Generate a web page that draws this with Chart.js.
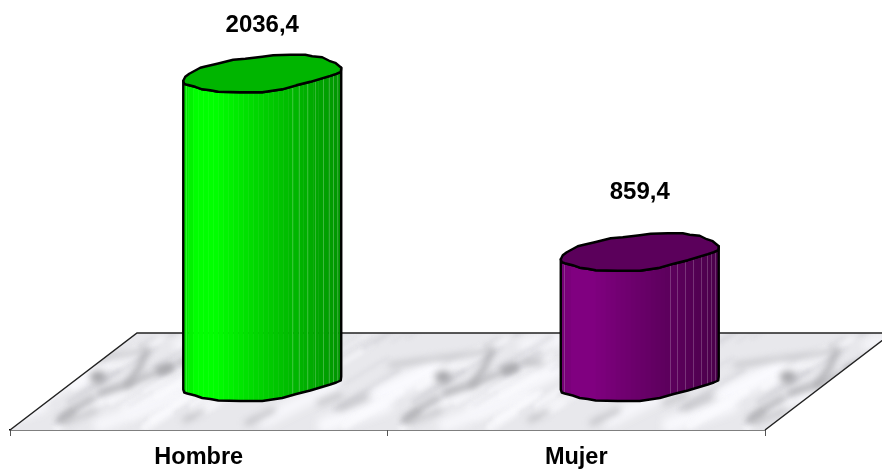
<!DOCTYPE html>
<html>
<head>
<meta charset="utf-8">
<title>Hombre / Mujer</title>
<script src="https://cdn.jsdelivr.net/npm/chart.js@4"></script>
<style>
  html, body { margin: 0; padding: 0; background: #fff; }
  canvas { display: block; }
</style>
</head>
<body>
<canvas id="myChart" width="882" height="470"></canvas>
<script>
var categories = ['Hombre', 'Mujer'];
var values = [2036.4, 859.4];
var valueLabels = ['2036,4', '859,4'];

var barColors = [[0, 255, 0], [128, 0, 128]];
var labelLift = [47, 59];
var font = 'bold 24px "Liberation Sans", Arial, sans-serif';

// floor depth, the bars stand half way back
var depthX = 127;
var depthY = 97;

// rim of the cylinder, drawn for a bar 158 wide, clockwise from the left
var rim = [[-79, 8], [-77, 4], [-73, 1], [-62, -5], [-58, -6], [-45, -9], [-29, -13], [-17, -14], [0, -16], [11, -17.5],
  [28, -18], [43, -18], [50, -16.5], [60, -15.5], [67, -12], [73, -10], [79, -5], [78.5, -1], [74, 1], [68, 3],
  [58, 6], [48, 9], [34, 12.5], [20, 16.5], [10, 18], [0, 19.5], [-22, 19.5], [-44, 19], [-52, 17.5], [-60, 16.5], [-67, 14], [-75, 12], [-78, 11]];
var frontFrom = 16;

// light seams on the shaded side, as a share of bar width
var seams = [0.018, 0.69, 0.734, 0.785, 0.835, 0.886, 0.924, 0.949, 0.975];
var shadeStops = [[0, 0.88], [0.08, 1], [0.2, 1], [0.5, 0.82], [0.7, 0.72], [1, 0.58]];

// marble veins in one tile of the floor: [width, grey, points...]
var tileWidth = 345;
var darkVeins = [
  [6, 170, [60, 420], [73, 412]],
  [5, 180, [62, 419], [75, 408], [92, 398]],
  [5, 165, [100, 393], [127, 385], [138, 370], [147, 350]],
  [5, 170, [127, 385], [150, 375], [170, 368]],
  [8, 165, [160, 370], [170, 367]],
  [4, 190, [45, 365], [95, 358], [120, 355], [147, 350]],
  [12, 165, [96, 377], [100, 377]],
  [6, 195, [-5, 408], [20, 397]],
  [5, 190, [185, 420], [202, 412]],
  [5, 190, [65, 423], [95, 410]],
  [5, 190, [-98, 423], [-72, 410]],
  [6, 198, [-25, 403], [-5, 395]],
  [6, 190, [180, 363], [195, 362]]
];
var lightVeins = [
  [18, 250, [35, 395], [90, 368]],
  [16, 248, [-20, 425], [40, 405]],
  [16, 248, [130, 410], [210, 370]],
  [14, 245, [180, 345], [225, 338]],
  [14, 246, [100, 425], [180, 395]],
  [14, 246, [265, 420], [335, 385]],
  [14, 246, [250, 375], [320, 350]]
];

function frac(n) { return n - Math.floor(n); }

// fine diagonal grain of the marble, same for every run
function strokeGrain(ctx, shift, top, height) {
  for (var n = 0; n < 46; n++) {
    var x = frac(Math.sin(n * 12.9898) * 43758.5453) * tileWidth;
    var y = top + frac(Math.sin(n * 78.233) * 12543.123) * height;
    var len = 20 + frac(Math.sin(n * 39.425) * 8731.77) * 45;
    ctx.lineWidth = 2 + (n % 4) * 2;
    ctx.strokeStyle = n % 2 ? 'rgba(252,252,255,0.6)' : 'rgba(175,175,182,0.24)';
    ctx.beginPath();
    ctx.moveTo(x + shift, y);
    ctx.lineTo(x + shift + len, y - len * 0.62);
    ctx.stroke();
  }
}

function strokeVeins(ctx, list, shift) {
  list.forEach(function(v) {
    ctx.lineWidth = v[0];
    ctx.strokeStyle = 'rgb(' + v[1] + ',' + v[1] + ',' + (v[1] + 4) + ')';
    ctx.beginPath();
    for (var i = 2; i < v.length; i++) {
      if (i === 2) ctx.moveTo(v[i][0] + shift, v[i][1]);
      else ctx.lineTo(v[i][0] + shift, v[i][1]);
    }
    ctx.stroke();
  });
}

function drawFloor(chart) {
  var ctx = chart.ctx;
  var area = chart.chartArea;
  var l = area.left, r = area.right, b = area.bottom;

  ctx.save();
  ctx.beginPath();
  ctx.moveTo(l, b);
  ctx.lineTo(l + depthX, b - depthY);
  ctx.lineTo(r + depthX, b - depthY);
  ctx.lineTo(r, b);
  ctx.closePath();
  ctx.save();
  ctx.clip();
  ctx.fillStyle = '#e8e8ec';
  ctx.fillRect(0, b - depthY, chart.width, depthY);
  ctx.lineCap = 'round';
  ctx.lineJoin = 'round';
  for (var s = -1; s < 4; s++) {
    ctx.filter = 'blur(4px)';
    strokeVeins(ctx, lightVeins, s * tileWidth);
    ctx.filter = 'blur(2px)';
    strokeGrain(ctx, s * tileWidth, b - depthY, depthY);
    ctx.filter = 'blur(3.5px)';
    strokeVeins(ctx, darkVeins, s * tileWidth);
  }
  ctx.filter = 'none';
  ctx.restore();

  ctx.strokeStyle = '#222';
  ctx.lineWidth = 1.5;
  ctx.beginPath();
  ctx.moveTo(l, b);
  ctx.lineTo(l + depthX, b - depthY);
  ctx.lineTo(r + depthX, b - depthY);
  ctx.lineTo(r, b);
  ctx.stroke();
  ctx.restore();
}

function shadeAt(u) {
  for (var i = 1; i < shadeStops.length; i++) {
    if (u <= shadeStops[i][0]) {
      var a = shadeStops[i - 1], c = shadeStops[i];
      return a[1] + (c[1] - a[1]) * (u - a[0]) / (c[0] - a[0]);
    }
  }
  return shadeStops[shadeStops.length - 1][1];
}

function tint(color, k) {
  return 'rgb(' + color.map(function(c) {
    return Math.round(c * k);
  }).join(',') + ')';
}

function drawCylinder(ctx, bar, color) {
  var k = bar.width / 158;
  var cx = bar.x + depthX / 2;
  var top = bar.y - depthY / 2;
  var bottom = bar.base - depthY / 2;
  var left = cx - bar.width / 2;

  function px(p) { return cx + p[0] * k; }
  function py(p, y) { return y + p[1] * k; }

  // side of the cylinder
  function bodyPath() {
    var i;
    ctx.beginPath();
    ctx.moveTo(px(rim[0]), py(rim[0], top));
    ctx.lineTo(px(rim[0]), py(rim[0], bottom));
    for (i = rim.length - 1; i >= frontFrom; i--) ctx.lineTo(px(rim[i]), py(rim[i], bottom));
    for (i = frontFrom; i < rim.length; i++) ctx.lineTo(px(rim[i]), py(rim[i], top));
    ctx.closePath();
  }

  ctx.save();
  ctx.lineJoin = 'round';
  bodyPath();
  ctx.save();
  ctx.clip();
  var yMin = top - 30, h = bottom - top + 60;
  for (var x = 0; x < bar.width; x += 5) {
    ctx.fillStyle = tint(color, shadeAt((x + 2.5) / bar.width));
    ctx.fillRect(left + x, yMin, 5.5, h);
  }
  ctx.lineWidth = 1;
  ctx.strokeStyle = 'rgba(255,255,255,0.2)';
  seams.forEach(function(u) {
    ctx.beginPath();
    ctx.moveTo(Math.round(left + u * bar.width) + 0.5, yMin);
    ctx.lineTo(Math.round(left + u * bar.width) + 0.5, yMin + h);
    ctx.stroke();
  });
  ctx.restore();
  ctx.strokeStyle = '#000';
  ctx.lineWidth = 2.4;
  bodyPath();
  ctx.stroke();

  // top of the cylinder
  ctx.beginPath();
  rim.forEach(function(p, i) {
    if (i === 0) ctx.moveTo(px(p), py(p, top));
    else ctx.lineTo(px(p), py(p, top));
  });
  ctx.closePath();
  ctx.fillStyle = tint(color, 0.71);
  ctx.fill();
  ctx.stroke();
  ctx.restore();
}

var cylinders = {
  id: 'cylinders',
  beforeDatasetsDraw: function(chart) {
    drawFloor(chart);
  },
  afterDatasetsDraw: function(chart) {
    var ctx = chart.ctx;
    var bars = chart.getDatasetMeta(0).data;
    bars.forEach(function(bar, i) {
      drawCylinder(ctx, bar, barColors[i]);
    });
    ctx.save();
    ctx.fillStyle = '#000';
    ctx.font = font;
    ctx.textAlign = 'center';
    ctx.textBaseline = 'middle';
    bars.forEach(function(bar, i) {
      ctx.fillText(valueLabels[i], bar.x + depthX / 2, bar.y - depthY / 2 - labelLift[i]);
    });
    ctx.restore();
  }
};

var ctx = document.getElementById('myChart');
var myChart = new Chart(ctx, {
  type: 'bar',
  data: {
    labels: categories,
    datasets: [{
      data: values,
      backgroundColor: 'rgba(0,0,0,0)',
      borderWidth: 0,
      barPercentage: 0.4185,
      categoryPercentage: 1
    }]
  },
  options: {
    responsive: false,
    animation: false,
    layout: { padding: { left: 10, right: 117, top: 51, bottom: 0 } },
    plugins: { legend: { display: false }, tooltip: { enabled: false } },
    scales: {
      x: {
        afterFit: function(scale) { scale.height = 40; },
        border: { color: '#000', width: 1.5 },
        grid: { drawOnChartArea: false, drawTicks: true, tickLength: 6, color: '#555' },
        ticks: {
          color: '#000',
          padding: 7,
          maxRotation: 0,
          autoSkip: false,
          font: { family: '"Liberation Sans", Arial, sans-serif', size: 23.5, weight: 'bold' }
        }
      },
      y: {
        display: false,
        min: 0,
        max: 2500
      }
    }
  },
  plugins: [cylinders]
});
</script>
</body>
</html>
